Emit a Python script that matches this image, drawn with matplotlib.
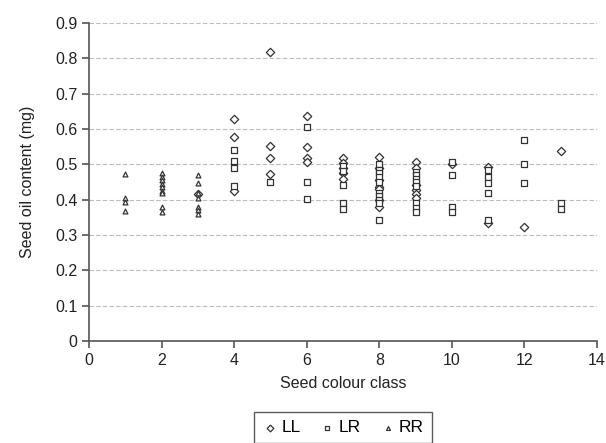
import matplotlib
matplotlib.use("Agg")
import matplotlib.pyplot as plt
from matplotlib import font_manager

# ---- data ----
ll_x = [3, 4, 4, 4, 5, 5, 5, 5, 6, 6, 6, 6,
        7, 7, 7, 7, 7,
        8, 8, 8, 8, 8, 8, 8,
        9, 9, 9, 9, 9, 9,
        10, 11, 11, 12, 13]
ll_y = [0.415, 0.629, 0.577, 0.424, 0.819, 0.552, 0.519, 0.472, 0.637, 0.548, 0.519, 0.507,
        0.517, 0.505, 0.49, 0.475, 0.46,
        0.52, 0.49, 0.457, 0.437, 0.43, 0.40, 0.38,
        0.507, 0.489, 0.441, 0.427, 0.415, 0.404,
        0.501, 0.493, 0.335, 0.322, 0.537]

lr_x = [4, 4, 4, 4, 5, 6, 6, 6,
        7, 7, 7, 7, 7,
        8, 8, 8, 8, 8, 8, 8, 8, 8, 8,
        9, 9, 9, 9, 9, 9, 9, 9,
        10, 10, 10, 10,
        11, 11, 11, 11, 11,
        12, 12, 12, 13, 13]
lr_y = [0.540, 0.509, 0.491, 0.440, 0.449, 0.607, 0.451, 0.402,
        0.495, 0.48, 0.441, 0.392, 0.375,
        0.50, 0.485, 0.475, 0.465, 0.45, 0.42, 0.41, 0.40, 0.39, 0.342,
        0.479, 0.47, 0.46, 0.45, 0.44, 0.39, 0.378, 0.366,
        0.507, 0.470, 0.380, 0.366,
        0.484, 0.463, 0.448, 0.418, 0.344,
        0.569, 0.501, 0.448, 0.392, 0.375]

rr_x = [1, 1, 1, 1,
        2, 2, 2, 2, 2, 2, 2, 2, 2,
        3, 3, 3, 3, 3, 3, 3]
rr_y = [0.473, 0.405, 0.395, 0.369,
        0.475, 0.465, 0.455, 0.445, 0.435, 0.425, 0.418, 0.38, 0.365,
        0.47, 0.446, 0.42, 0.405, 0.38, 0.37, 0.36]

x_ticks = [0, 2, 4, 6, 8, 10, 12, 14]
y_ticks = [0, 0.1, 0.2, 0.3, 0.4, 0.5, 0.6, 0.7, 0.8, 0.9]
y_ticklabels = ["0", "0.1", "0.2", "0.3", "0.4", "0.5", "0.6", "0.7", "0.8", "0.9"]

# ---- font ----
names = {f.name for f in font_manager.fontManager.ttflist}
fam = "Liberation Sans Narrow" if "Liberation Sans Narrow" in names else "Liberation Sans"
plt.rcParams["font.family"] = [fam, "DejaVu Sans"]
plt.rcParams["font.size"] = 11.5

fig = plt.figure(figsize=(6.06, 4.43), dpi=100)
ax = fig.add_axes([0.147, 0.230, 0.838, 0.718])

edge = "#333333"
ax.scatter(ll_x, ll_y, marker="D", s=18, facecolors="white", edgecolors=edge, linewidths=0.9, label="LL", zorder=3)
ax.scatter(lr_x, lr_y, marker="s", s=16, facecolors="white", edgecolors=edge, linewidths=0.9, label="LR", zorder=3)
ax.scatter(rr_x, rr_y, marker="^", s=12, facecolors="white", edgecolors=edge, linewidths=0.9, label="RR", zorder=3)

ax.set_xlim(0, 14)
ax.set_ylim(0, 0.9)
ax.set_xticks(x_ticks)
ax.set_yticks(y_ticks)
ax.set_yticklabels(y_ticklabels)

for s in ["top", "right"]:
    ax.spines[s].set_visible(False)
for s in ["left", "bottom"]:
    ax.spines[s].set_color("#555555")
    ax.spines[s].set_linewidth(1.2)
ax.tick_params(axis="both", colors="#555555", labelcolor="#222222", length=5, width=1.2, direction="out")

ax.yaxis.grid(True, linestyle=(0, (4, 2)), color="#bbbbbb", linewidth=0.8)
ax.set_axisbelow(True)

ax.set_xlabel("Seed colour class", color="#222222", labelpad=6)
ax.set_ylabel("Seed oil content (mg)", color="#222222", labelpad=14)

leg = ax.legend(loc="upper center", bbox_to_anchor=(0.5, -0.197), ncol=3, frameon=True,
                fancybox=False, edgecolor="#333333", handletextpad=0.2, columnspacing=1.1,
                handlelength=0.9, borderpad=0.45, markerscale=0.8, fontsize=12.5)
leg.get_frame().set_linewidth(1.0)

fig.savefig("out.png", dpi=100)
